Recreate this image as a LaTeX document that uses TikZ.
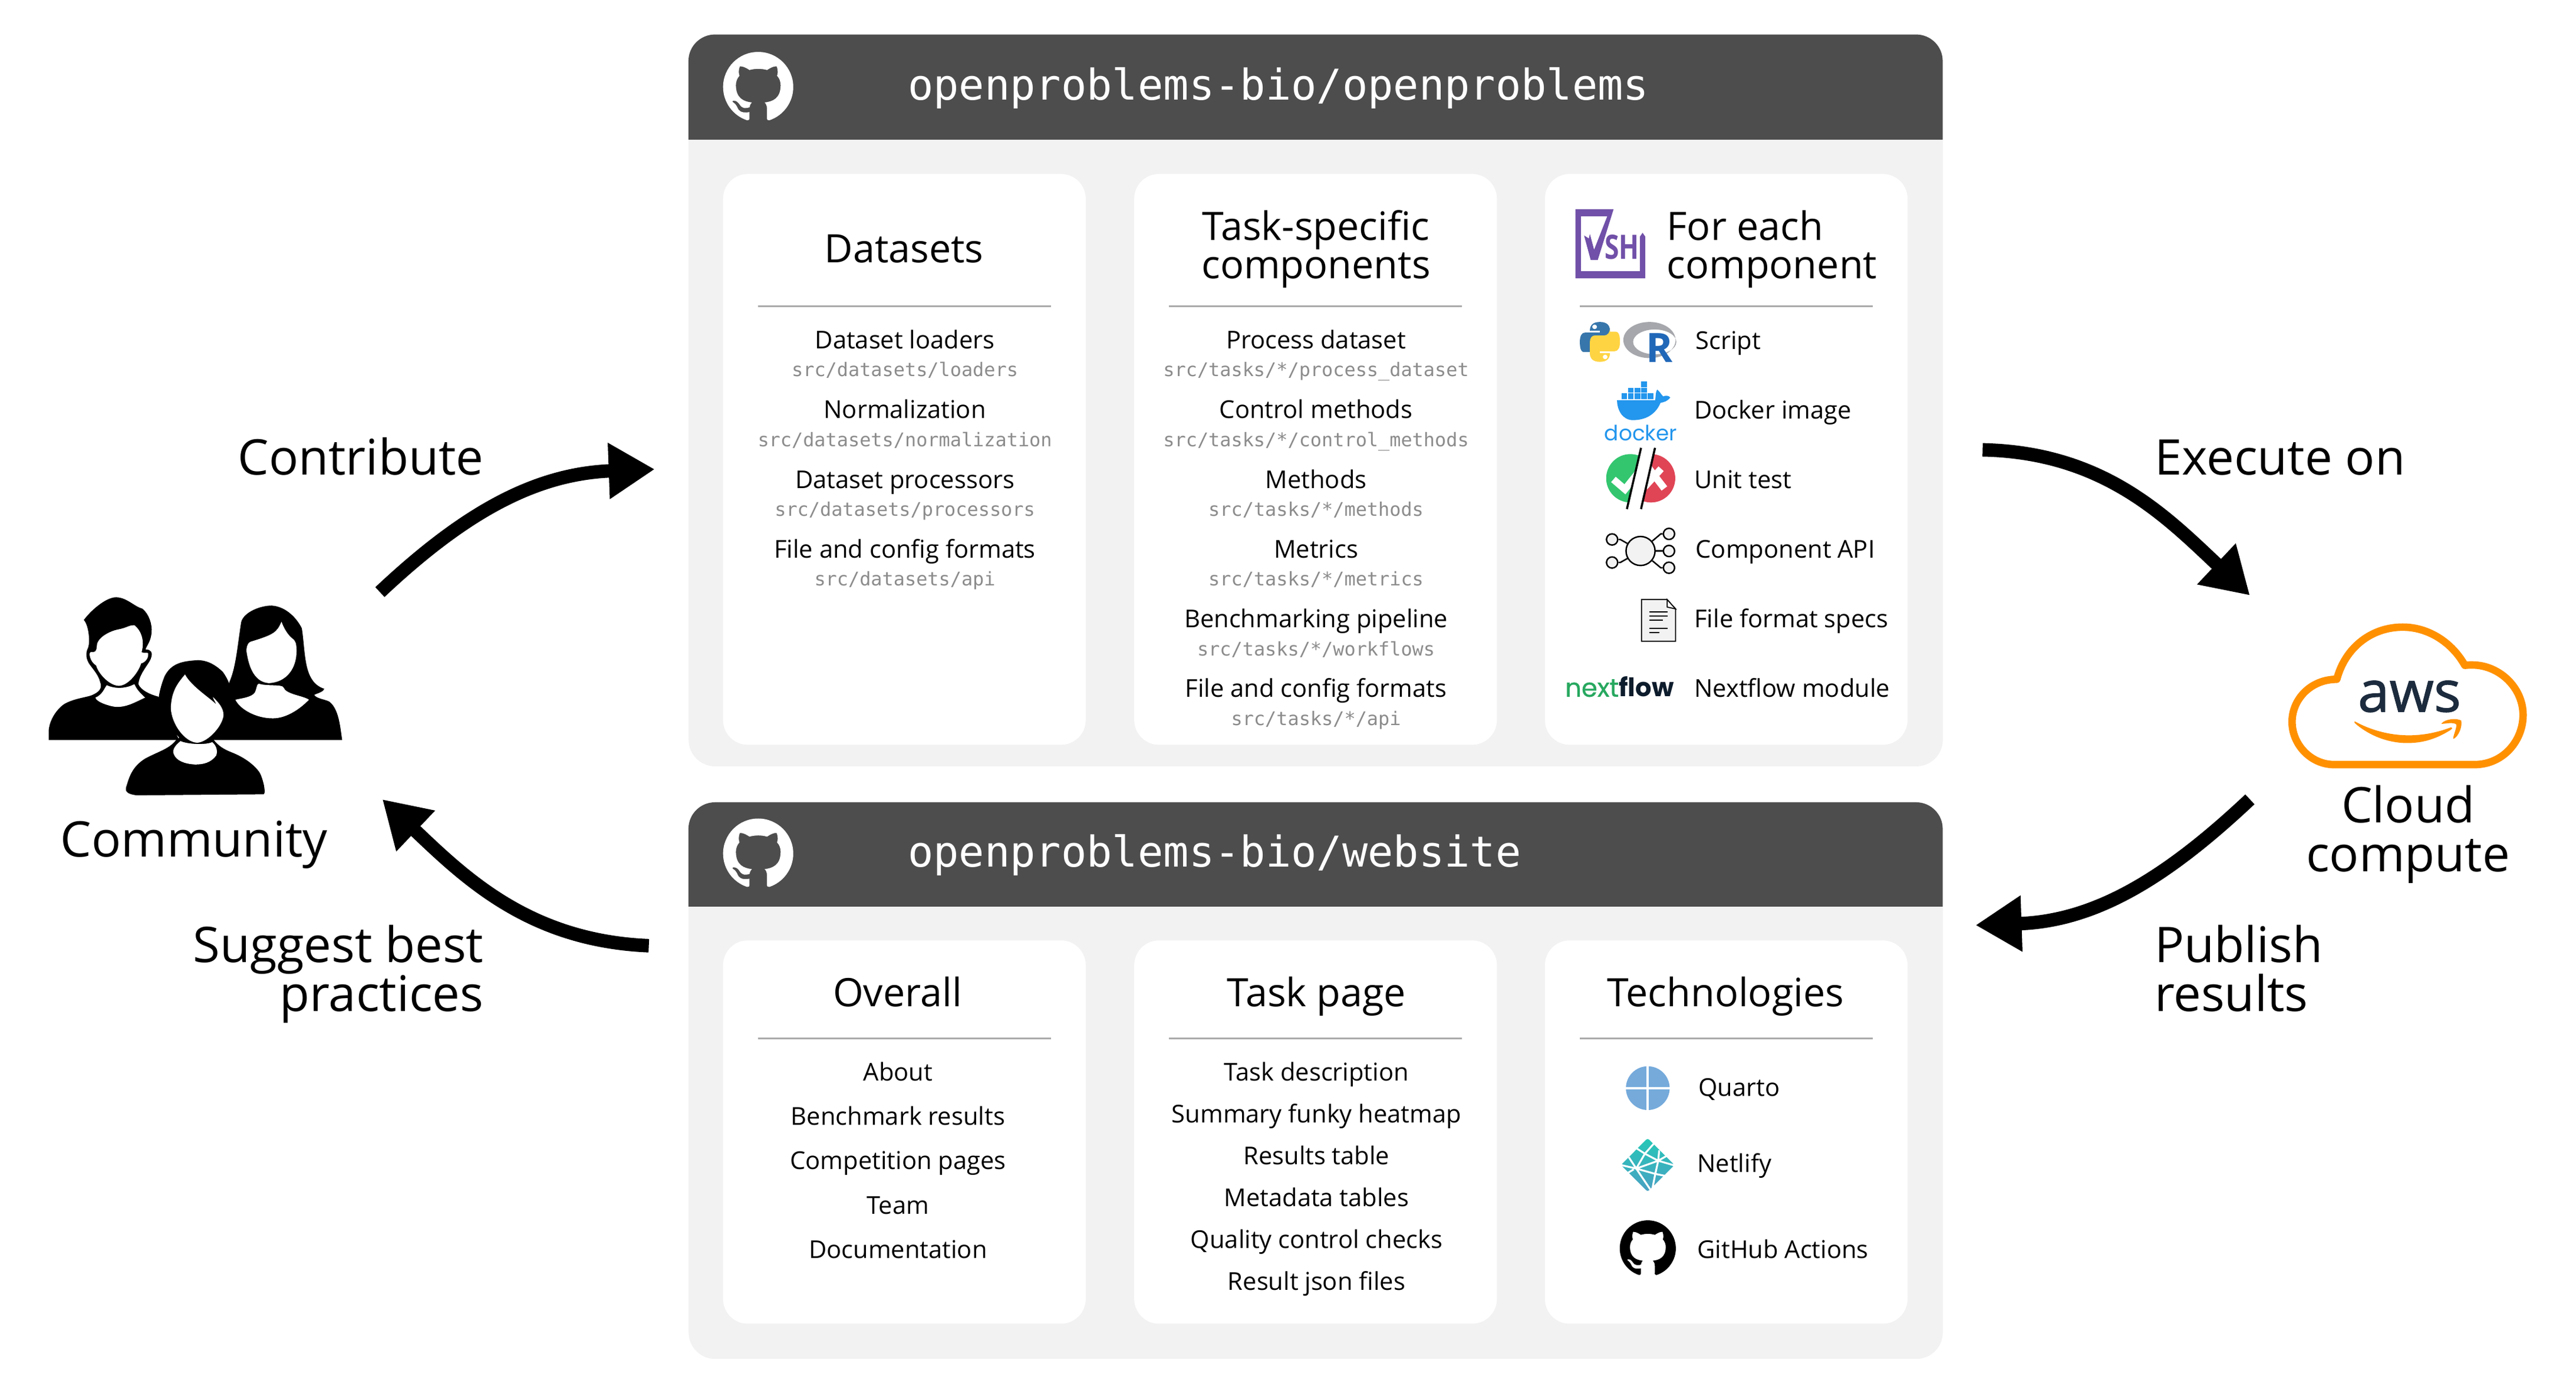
\documentclass[tikz,border=0pt]{standalone}
\usepackage{fontspec}
\setmainfont{Open Sans}
\setmonofont{DejaVu Sans Mono}
\newfontfamily\popfont{Poppins}
\newfontfamily\awsfont[FakeBold=1.2]{Open Sans}
\newfontfamily\nfnextfont[FakeBold=0.8]{Poppins}
\usetikzlibrary{arrows.meta,svg.path}
\definecolor{panelbg}{HTML}{F2F2F2}
\definecolor{headbg}{HTML}{4D4D4D}
\definecolor{rulegray}{HTML}{AAAAAA}
\definecolor{srcgray}{HTML}{8C8C8C}
\definecolor{vshpurple}{HTML}{7050A8}
\definecolor{awsorange}{HTML}{FF9100}
\definecolor{awsnavy}{HTML}{1C2B3D}
\definecolor{dockblue}{HTML}{2396ED}
\definecolor{quartoblue}{HTML}{75AADB}
\definecolor{nfgreen}{HTML}{27A85F}
\definecolor{nfdark}{HTML}{0D1C2C}
\definecolor{okgreen}{HTML}{33C66F}
\definecolor{badred}{HTML}{E04556}
\newcommand{\ghmark}[4]{%
  \begin{scope}[shift={(#1,#2)},scale=#3*0.0989,yscale=-1,xshift=-8pt,yshift=-8pt]
    \fill[#4] svg {M 8 0 C 3.58 0 0 3.58 0 8 c 0 3.54 2.29 6.53 5.47 7.59 0.4 0.07 0.55 -0.17 0.55 -0.38 0 -0.19 -0.01 -0.82 -0.01 -1.49 -2.01 0.37 -2.53 -0.49 -2.69 -0.94 -0.09 -0.23 -0.48 -0.94 -0.82 -1.13 -0.28 -0.15 -0.68 -0.52 -0.01 -0.53 0.63 -0.01 1.08 0.58 1.23 0.82 0.72 1.21 1.87 0.87 2.33 0.66 0.07 -0.52 0.28 -0.87 0.51 -1.07 -1.78 -0.2 -3.64 -0.89 -3.64 -3.95 0 -0.87 0.31 -1.59 0.82 -2.15 -0.08 -0.2 -0.36 -1.02 0.08 -2.12 0 0 0.67 -0.21 2.2 0.82 0.64 -0.18 1.32 -0.27 2 -0.27 0.68 0 1.36 0.09 2 0.27 1.53 -1.04 2.2 -0.82 2.2 -0.82 0.44 1.1 0.16 1.92 0.08 2.12 0.51 0.56 0.82 1.27 0.82 2.15 0 3.07 -1.87 3.75 -3.65 3.95 0.29 0.25 0.54 0.73 0.54 1.48 0 1.07 -0.01 1.93 -0.01 2.2 0 0.21 0.15 0.46 0.55 0.38 C 13.71 14.53 16 11.53 16 8 c 0 -4.42 -3.58 -8 -8 -8 z};
  \end{scope}}
\tikzset{
  x=0.0279cm,y=-0.0279cm,
  panelbox/.style={rectangle,draw=none,fill=panelbg,rounded corners=4.5mm,minimum width=21.27cm,inner sep=0pt},
  cardbox/.style={rectangle,draw=none,fill=white,rounded corners=4.2mm,minimum width=6.15cm,inner sep=0pt},
  headtxt/.style={anchor=base west,inner sep=0pt,text=white,font=\ttfamily\fontsize{20.48pt}{24pt}\selectfont},
  titletxt/.style={anchor=base,inner sep=0pt,font=\fontsize{18.9pt}{22pt}\selectfont},
  itemtxt/.style={anchor=base,inner sep=0pt,font=\fontsize{11.85pt}{15pt}\selectfont},
  itemleft/.style={itemtxt,anchor=base west},
  srctxt/.style={anchor=base,inner sep=0pt,text=srcgray,font=\ttfamily\fontsize{9.07pt}{11pt}\selectfont},
  bigtxt/.style={anchor=base,inner sep=0pt,font=\fontsize{23.7pt}{28pt}\selectfont},
  toprule/.style={draw=rulegray,line width=0.75pt},
  flowarrow/.style={line width=6.5pt,-{Triangle[length=7.8mm,width=9mm]}},
  zoomvsh/.style={shift={(924.7,100.4)},x=0.004464cm,y=-0.006378cm},
  zoomppl/.style={shift={(0,340.5)},x=0.004464cm,y=-0.003508cm},
  zoomaws/.style={shift={(1362,358.4)},x=0.003636cm,y=-0.003333cm},
  zoomnet/.style={shift={(967.7,638)},x=0.003333cm,y=-0.003333cm},
}
\begin{document}
\begin{tikzpicture}
\useasboundingbox (0,0) rectangle (1566.3,846.6);
\fill[white] (0,0) rectangle (1566.3,846.6);

% ---- panels
\node[panelbox,minimum height=12.42cm] (panelA) at (800,243.3) {};
\node[panelbox,minimum height=9.44cm] (panelB) at (800,657) {};
\begin{scope}
  \clip (418,20) rectangle (1182,84.6);
  \fill[headbg,rounded corners=4.5mm] (418.6,21) rectangle (1181.2,150);
\end{scope}
\begin{scope}
  \clip (418,487) rectangle (1182,551);
  \fill[headbg,rounded corners=4.5mm] (418.6,487.8) rectangle (1181.2,620);
\end{scope}
\ghmark{461}{52.9}{21.4}{white}
\ghmark{461}{519}{21.4}{white}
\node[headtxt] (headA) at (551.8,60.6) {openproblems-bio/openproblems};
\node[headtxt] (headB) at (551.8,527) {openproblems-bio/website};

% ---- cards
\foreach \nm/\cx in {cA/549.9,cB/799.9,cC/1049.6}{
  \node[cardbox,minimum height=9.68cm] (\nm top) at (\cx,279.3) {};
  \draw[toprule] (\cx-89,186.2) -- (\cx+89,186.2);
  \node[cardbox,minimum height=6.5cm] (\nm low) at (\cx,688.3) {};
  \draw[toprule] (\cx-89,631.3) -- (\cx+89,631.3);
}

% ---- datasets
\node[titletxt] (t1) at (549.7,159.5) {Datasets};
\node[itemtxt] (a1) at (550.2,212) {Dataset loaders};
\node[srctxt] (a1s) at (550.2,229) {src/datasets/loaders};
\node[itemtxt] (a2) at (550.2,254.4) {Normalization};
\node[srctxt] (a2s) at (550.2,271.4) {src/datasets/normalization};
\node[itemtxt] (a3) at (550.2,296.8) {Dataset processors};
\node[srctxt] (a3s) at (550.2,313.8) {src/datasets/processors};
\node[itemtxt] (a4) at (550.2,339.2) {File and config formats};
\node[srctxt] (a4s) at (550.2,356.2) {src/datasets/api};

% ---- task specific
\node[titletxt] (t2a) at (800.2,146) {Task-specific};
\node[titletxt] (t2b) at (800.2,169.5) {components};
\node[itemtxt] (b1) at (800.2,212) {Process dataset};
\node[srctxt] (b1s) at (800.2,229) {src/tasks/*/process\_dataset};
\node[itemtxt] (b2) at (800.2,254.4) {Control methods};
\node[srctxt] (b2s) at (800.2,271.4) {src/tasks/*/control\_methods};
\node[itemtxt] (b3) at (800.2,296.8) {Methods};
\node[srctxt] (b3s) at (800.2,313.8) {src/tasks/*/methods};
\node[itemtxt] (b4) at (800.2,339.2) {Metrics};
\node[srctxt] (b4s) at (800.2,356.2) {src/tasks/*/metrics};
\node[itemtxt] (b5) at (800.2,381.6) {Benchmarking pipeline};
\node[srctxt] (b5s) at (800.2,398.6) {src/tasks/*/workflows};
\node[itemtxt] (b6) at (800.2,424) {File and config formats};
\node[srctxt] (b6s) at (800.2,441) {src/tasks/*/api};

% ---- for each component
\node[titletxt,anchor=base west] (t3a) at (1013.2,146) {For each};
\node[titletxt,anchor=base west] (t3b) at (1013.2,169.5) {component};
\node[itemleft] (c1) at (1030.8,212.3) {Script};
\node[itemleft] (c2) at (1030,254.6) {Docker image};
\node[itemleft] (c3) at (1030,297) {Unit test};
\node[itemleft] (c4) at (1030.8,339.3) {Component API};
\node[itemleft] (c5) at (1030,381.6) {File format specs};
\node[itemleft] (c6) at (1030,423.8) {Nextflow module};

% VSH logo
\begin{scope}[zoomvsh]
  \fill[vshpurple] (240,187) -- (258,195) -- (262,183) -- (278,225) -- (328,136) -- (228,136) -- (228,282) -- (452,282) -- (452,190) -- (462,180) -- (472,190) -- (472,301) -- (207,301) -- (207,117) -- (352,117) -- (292,252) -- (265,252) -- cycle;
  \node[inner sep=0pt,anchor=base,text=vshpurple,font=\bfseries\fontsize{16.2pt}{18pt}\selectfont] (vshtxt) at (383,250) {\scalebox{0.78}[1]{SH}};
\end{scope}
% Python
\begin{scope}[zoomvsh]
  \fill[fill={rgb,255:red,55;green,118;blue,171}] (262,440) .. controls (262,425) and (275,417) .. (300,417) .. controls (325,417) and (338,425) .. (338,440) -- (338,470) .. controls (338,480) and (330,487) .. (320,487) -- (285,487) .. controls (270,487) and (262,495) .. (262,507) -- (262,497) -- (240,497) .. controls (225,497) and (224,480) .. (224,470) .. controls (224,455) and (230,445) .. (245,445) -- (300,445) -- (300,440) -- cycle;
  \fill[fill={rgb,255:red,255;green,212;blue,67}] (338,500) .. controls (338,515) and (325,523) .. (300,523) .. controls (275,523) and (262,515) .. (262,500) -- (262,470) .. controls (262,460) and (270,453) .. (280,453) -- (315,453) .. controls (330,453) and (338,445) .. (338,433) -- (338,443) -- (360,443) .. controls (375,443) and (376,460) .. (376,470) .. controls (376,485) and (370,495) .. (355,495) -- (300,495) -- (300,500) -- cycle;
  \fill[white] (280,430) ellipse [x radius=9,y radius=6];
  \fill[white] (320,510) ellipse [x radius=9,y radius=6];
  % R
  \fill[even odd rule,fill={rgb,255:red,165;green,167;blue,172}] (488,465) ellipse [x radius=99,y radius=48] (508,470) ellipse [x radius=82,y radius=33];
  \node[inner sep=0pt,anchor=base,text={rgb,255:red,32;green,103;blue,184},font=\bfseries\fontsize{19.5pt}{22pt}\selectfont] (rtxt) at (525,524) {R};
  % Docker
  \foreach \xa in {382,407,432,457,482}{\fill[dockblue] (\xa,607) rectangle (\xa+21,622);}
  \foreach \xa in {407,432,457}{\fill[dockblue] (\xa,592) rectangle (\xa+21,605);}
  \fill[dockblue] (457,575) rectangle (478,590);
  \fill[dockblue] (365,625) -- (510,625) .. controls (512,610) and (512,600) .. (518,597) .. controls (530,605) and (535,612) .. (540,615) .. controls (550,612) and (560,612) .. (567,618) .. controls (555,628) and (545,630) .. (530,632) .. controls (510,665) and (470,678) .. (425,678) .. controls (385,678) and (365,650) .. (365,625) -- cycle;
  \node[inner sep=0pt,anchor=base,text=dockblue,font=\popfont\fontsize{10.2pt}{12pt}\selectfont] (dockertxt) at (455,733) {docker};
\end{scope}
% Unit test
\begin{scope}
  \clip (999.3,265.3) -- (989.2,309.5) -- (960,320) -- (960,265) -- cycle;
  \fill[okgreen] (991.3,290.8) circle [radius=14.7];
  \draw[white,line width=3.4pt] (981,291.5) -- (988,297.5) -- (998,285);
\end{scope}
\begin{scope}
  \clip (1006.3,272.3) -- (997.8,309.5) -- (1030,309.5) -- (1030,272.3) -- cycle;
  \fill[badred] (1003.9,290.8) circle [radius=14.7];
  \draw[white,line width=3.4pt] (1002,284) -- (1012,297);
  \draw[white,line width=3.4pt] (1000,296) -- (1010,285);
\end{scope}
\coordinate (sl1a) at (997.8,272.3); \coordinate (sl1b) at (989.2,309.5);
\coordinate (sl2a) at (1006.3,272.3); \coordinate (sl2b) at (997.8,309.5);
\draw[black,line width=1pt] (sl1a) -- (sl1b) (sl2a) -- (sl2b);
% API
\tikzset{apibig/.style={circle,draw=black,fill=panelbg,line width=0.7pt,inner sep=0pt,minimum size=14pt},
  apismall/.style={circle,draw=black,fill=panelbg,line width=0.7pt,inner sep=0pt,minimum size=5.4pt}}
\node[apismall] (s1) at (980.2,328) {};
\node[apismall] (s2) at (980.2,342) {};
\node[apismall] (s3) at (1014.8,324.6) {};
\node[apismall] (s4) at (1014.8,335) {};
\node[apismall] (s5) at (1014.8,345.2) {};
\node[apibig] (hub) at (997.5,335) {};
\draw[line width=0.7pt] (s1) -- ++(5,0) -- (hub);
\draw[line width=0.7pt] (s2) -- ++(5,0) -- (hub);
\draw[line width=0.7pt] (s3) -- ++(-5,0) -- (hub);
\draw[line width=0.7pt] (s4) -- (hub);
\draw[line width=0.7pt] (s5) -- ++(-5,0) -- (hub);
% File
\begin{scope}[zoomvsh]
  \draw[fill=panelbg,line width=0.5pt] (458,1155) -- (555,1155) -- (587,1180) -- (587,1266) -- (458,1266) -- cycle;
  \draw[fill=white,line width=0.5pt] (555,1155) -- (555,1175) -- (587,1180) -- cycle;
  \draw[line width=0.4pt] (488,1188) -- (557,1188) (488,1199) -- (557,1199) (488,1210) -- (540,1210) (488,1232) -- (557,1232) (488,1243) -- (525,1243);
\end{scope}
% nextflow
\node[inner sep=0pt,anchor=base east,font=\popfont\fontsize{12.3pt}{15pt}\selectfont] (nftxt) at (1018,423.6) {\textcolor{nfgreen}{\nfnextfont next}\textcolor{nfdark}{\textbf{flow}}};

% ---- overall
\node[titletxt] (t4) at (545.7,612) {Overall};
\node[itemtxt] (d1) at (546,657) {About};
\node[itemtxt] (d2) at (546,684) {Benchmark results};
\node[itemtxt] (d3) at (546,711) {Competition pages};
\node[itemtxt] (d4) at (546,738) {Team};
\node[itemtxt] (d5) at (546,765) {Documentation};
% ---- task page
\node[titletxt] (t5) at (800.5,612) {Task page};
\node[itemtxt] (e1) at (800.5,657) {Task description};
\node[itemtxt] (e2) at (800.5,682.5) {Summary funky heatmap};
\node[itemtxt] (e3) at (800.5,708) {Results table};
\node[itemtxt] (e4) at (800.5,733.5) {Metadata tables};
\node[itemtxt] (e5) at (800.5,759) {Quality control checks};
\node[itemtxt] (e6) at (800.5,784.5) {Result json files};
% ---- technologies
\node[titletxt] (t6) at (1049.2,612) {Technologies};
\node[itemleft] (f1) at (1032.5,666.4) {Quarto};
\node[itemleft] (f2) at (1031.8,712.7) {Netlify};
\node[itemleft] (f3) at (1031.8,765) {GitHub Actions};
\fill[quartoblue] (1001.9,661.6) circle [radius=13.3];
\draw[white,line width=1.1pt] (988,661.6) -- (1016,661.6) (1001.9,648) -- (1001.9,675);
\begin{scope}[zoomnet]
  \shade[top color={rgb,255:red,37;green,199;blue,183},bottom color={rgb,255:red,74;green,160;blue,195},rounded corners=1pt] (286,453) -- (423,590) -- (286,726) -- (150,590) -- cycle;
  \draw[white,line width=0.9pt] (230,505) -- (272,532) -- (320,478) (272,532) -- (228,608) (272,532) -- (340,568) -- (228,608) (345,515) -- (340,568) -- (325,635) -- (228,608) -- (150,590) (228,608) -- (190,550) (228,608) -- (300,715) (325,635) -- (375,645) (325,635) -- (310,712) (380,545) -- (340,568) -- (423,592) (215,612) -- (185,630);
\end{scope}
\ghmark{1001.9}{759}{17.1}{black}

% ---- community
\begin{scope}[zoomppl]
  \fill (185,870) -- (185,820) .. controls (190,760) and (225,710) .. (245,695) .. controls (280,670) and (320,665) .. (345,655) .. controls (375,640) and (390,620) .. (380,590) .. controls (375,560) and (355,530) .. (342,508) .. controls (325,480) and (325,450) .. (332,430) .. controls (345,400) and (335,310) .. (318,290) .. controls (340,250) and (400,180) .. (440,180) .. controls (480,180) and (510,225) .. (540,235) .. controls (565,260) and (578,310) .. (575,350) .. controls (572,395) and (558,410) .. (552,432) .. controls (575,432) and (578,450) .. (575,465) .. controls (570,500) and (530,540) .. (525,600) .. controls (535,630) and (570,650) .. (600,660) -- (680,870) -- cycle;
  \fill[white] (367,420) .. controls (365,380) and (410,345) .. (450,335) .. controls (480,328) and (495,312) .. (510,315) .. controls (535,340) and (550,390) .. (537,445) .. controls (545,452) and (558,445) .. (562,450) .. controls (565,475) and (550,495) .. (535,500) .. controls (530,530) and (490,608) .. (450,608) .. controls (410,605) and (370,540) .. (365,510) .. controls (340,490) and (335,445) .. (345,445) .. controls (360,445) and (365,445) .. (367,420) -- cycle;
  \fill[white] (405,605) .. controls (440,625) and (480,620) .. (510,600) .. controls (520,630) and (535,645) .. (550,665) .. controls (500,695) and (480,710) .. (440,710) .. controls (410,705) and (365,685) .. (362,665) .. controls (390,650) and (395,620) .. (405,605) -- cycle;
  \fill (870,590) .. controls (895,520) and (900,420) .. (915,300) .. controls (925,250) and (990,220) .. (1030,220) .. controls (1090,225) and (1130,290) .. (1145,330) .. controls (1160,450) and (1150,590) .. (1230,622) .. controls (1225,640) and (1200,645) .. (1192,652) .. controls (1200,670) and (1240,675) .. (1250,685) .. controls (1285,720) and (1290,800) .. (1298,870) -- (800,870) -- cycle;
  \fill[white] (1068,298) .. controls (1050,350) and (1040,360) .. (950,395) .. controls (935,405) and (935,430) .. (935,440) .. controls (945,530) and (970,590) .. (1020,595) .. controls (1090,590) and (1125,520) .. (1125,440) .. controls (1125,400) and (1120,390) .. (1110,380) .. controls (1090,360) and (1075,325) .. (1068,298) -- cycle;
  \fill[white] (983,598) .. controls (1010,610) and (1070,600) .. (1075,615) .. controls (1085,650) and (1150,655) .. (1172,675) .. controls (1130,730) and (1080,765) .. (1035,765) .. controls (970,765) and (910,720) .. (893,675) .. controls (930,665) and (965,660) .. (970,630) .. controls (975,610) and (975,598) .. (983,598) -- cycle;
  \fill (680,858) .. controls (650,815) and (630,810) .. (610,805) .. controls (590,760) and (595,650) .. (625,560) .. controls (650,500) and (690,488) .. (750,484) .. controls (790,484) and (820,510) .. (845,540) .. controls (880,600) and (890,680) .. (885,750) .. controls (880,800) and (870,810) .. (855,815) .. controls (840,820) and (820,855) .. (810,868) .. controls (830,900) and (850,915) .. (880,930) .. controls (950,965) and (985,1020) .. (990,1040) .. controls (1005,1090) and (1007,1130) .. (1000,1132) -- (520,1137) .. controls (480,1132) and (475,1115) .. (478,1100) .. controls (490,1050) and (500,1000) .. (550,960) .. controls (600,925) and (640,915) .. (668,870) -- cycle;
  \fill[white] (702,553) .. controls (725,610) and (800,670) .. (820,697) .. controls (815,680) and (808,670) .. (808,662) .. controls (830,690) and (848,715) .. (848,750) .. controls (845,800) and (790,880) .. (748,883) .. controls (700,880) and (650,790) .. (648,715) .. controls (650,640) and (670,600) .. (702,553) -- cycle;
  \fill[white] (685,875) .. controls (710,890) and (780,895) .. (805,880) .. controls (825,900) and (825,930) .. (820,945) .. controls (800,980) and (770,988) .. (740,988) .. controls (700,985) and (670,970) .. (660,940) .. controls (650,915) and (670,890) .. (685,875) -- cycle;
\end{scope}
\node[bigtxt] (community) at (118,520.9) {Community};

% ---- cloud
\begin{scope}[zoomaws]
  \draw[awsorange,line width=3.6pt,line join=round] (440,893) -- (1095,893) .. controls (1230,893) and (1322,770) .. (1322,640) .. controls (1322,500) and (1210,385) .. (1085,385) .. controls (1075,385) and (1060,385) .. (1050,387) .. controls (990,270) and (880,192) .. (760,192) .. controls (610,192) and (490,300) .. (452,458) .. controls (330,458) and (243,560) .. (243,675) .. controls (243,790) and (330,893) .. (440,893) -- cycle;
  \fill[awsorange] (535,672) .. controls (640,735) and (800,780) .. (985,703) .. controls (995,705) and (990,712) .. (985,715) .. controls (900,775) and (830,783) .. (780,783) .. controls (680,783) and (590,735) .. (535,680) -- cycle;
  \fill[awsorange] (942,682) .. controls (960,660) and (1010,655) .. (1033,668) .. controls (1040,700) and (1020,750) .. (997,762) .. controls (990,760) and (1015,700) .. (1010,688) .. controls (995,675) and (960,685) .. (942,685) -- cycle;
\end{scope}
\node[inner sep=0pt,anchor=base,text=awsnavy,font=\awsfont\fontsize{27.5pt}{30pt}\selectfont] (awstxt) at (1465,432.7) {aws};
\node[bigtxt] (cloud1) at (1464.2,500) {Cloud};
\node[bigtxt] (cloud2) at (1464.2,530) {compute};

% ---- arrows
\coordinate (ar1s) at (231,360);    \coordinate (ar1e) at (398.1,285.3);
\coordinate (ar2s) at (1205.5,273.5);   \coordinate (ar2e) at (1368,362);
\coordinate (ar3s) at (1368,486);   \coordinate (ar3e) at (1201.2,562.5);
\coordinate (ar4s) at (394.5,575);    \coordinate (ar4e) at (232.5,486);
\draw[flowarrow] (ar1s) .. controls (282,312) and (325,288) .. (ar1e);
\draw[flowarrow] (ar2s) .. controls (1279,275) and (1317,314) .. (ar2e);
\draw[flowarrow] (ar3s) .. controls (1317,534) and (1274,560) .. (ar3e);
\draw[flowarrow] (ar4s) .. controls (322,572) and (283,534) .. (ar4e);

% ---- arrow labels
\node[bigtxt,anchor=base east] (lab1) at (294.3,288.8) {Contribute};
\node[bigtxt,anchor=base west] (lab2) at (1309.8,288.8) {Execute on};
\node[bigtxt,anchor=base west] (lab3a) at (1309.8,585) {Publish};
\node[bigtxt,anchor=base west] (lab3b) at (1309.8,615) {results};
\node[bigtxt,anchor=base east] (lab4a) at (294.3,585) {Suggest best};
\node[bigtxt,anchor=base east] (lab4b) at (294.3,615) {practices};
\end{tikzpicture}
\end{document}
